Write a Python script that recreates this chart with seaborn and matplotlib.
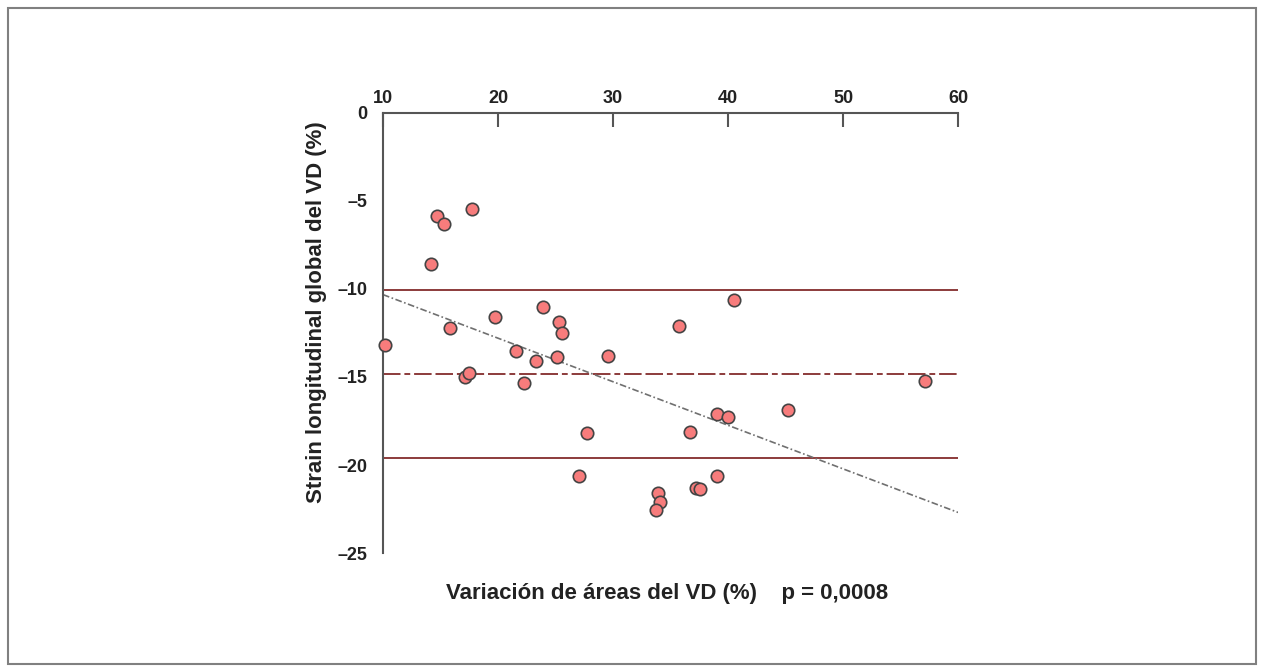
import numpy as np
import pandas as pd
import matplotlib
matplotlib.use("Agg")
import matplotlib.pyplot as plt
import seaborn as sns

# Values
area_var = [14.7, 15.3, 17.7, 14.2, 10.2, 15.8, 19.75, 23.9, 25.3, 25.6,
            21.6, 23.3, 25.1, 29.6, 17.1, 17.5, 22.3, 27.7, 40.5, 35.7,
            57.1, 39.0, 40.0, 45.2, 36.7, 27.0, 39.05, 37.2, 37.6, 33.9,
            34.1, 33.75]
strain = [-5.85, -6.3, -5.45, -8.6, -13.2, -12.2, -11.6, -11.0, -11.9, -12.5,
          -13.5, -14.1, -13.85, -13.8, -15.0, -14.8, -15.35, -18.2, -10.65, -12.1,
          -15.2, -17.1, -17.25, -16.9, -18.15, -20.6, -20.6, -21.3, -21.35, -21.6,
          -22.1, -22.55]
limit_levels = [-10.05, -19.6]   # solid lines
mean_level = -14.85              # dashed line
x_ticks = [10, 20, 30, 40, 50, 60]
y_ticks = [0, -5, -10, -15, -20, -25]

df = pd.DataFrame({"x": area_var, "y": strain})

sns.set_style("white")
plt.rcParams['font.family'] = ['Liberation Sans', 'DejaVu Sans']
text_col = "#222222"

fig = plt.figure(figsize=(12.64, 6.72), dpi=100)
ax = fig.add_axes([0.303, 0.177, 0.455, 0.655])
ax.set_xlim(10, 60)
ax.set_ylim(-25, 0)

line_col = "#8c3b3b"
for lv in limit_levels:
    ax.axhline(lv, color=line_col, lw=1.4, zorder=1)
ax.axhline(mean_level, color=line_col, lw=1.4, ls=(0, (9, 2, 3, 2, 9, 2)), zorder=1)

# regression line fitted on the data
sns.regplot(data=df, x="x", y="y", ax=ax, scatter=False, ci=None, truncate=False,
            line_kws=dict(color="#707070", lw=1.2, ls=(0, (4, 1.5, 1, 1.5)), zorder=2))

sns.scatterplot(data=df, x="x", y="y", ax=ax, s=80, color="#f77c7c",
                edgecolor="#444444", linewidth=1.2, zorder=3, clip_on=False)

ax.set_xlim(10, 60)
ax.set_ylim(-25, 0)

for side in ["right", "bottom"]:
    ax.spines[side].set_visible(False)
for side in ["top", "left"]:
    ax.spines[side].set_color("#555555")
    ax.spines[side].set_linewidth(1.5)

ax.xaxis.tick_top()
ax.set_xticks(x_ticks)
ax.set_xticklabels([str(t) for t in x_ticks], fontsize=13, fontweight="bold", color=text_col)
ax.set_yticks(y_ticks)
ax.set_yticklabels([str(t).replace("-", "\u2013") for t in y_ticks], fontsize=13,
                   fontweight="bold", color=text_col)
ax.tick_params(axis="x", direction="in", length=10, width=1.5, color="#555555", pad=4)
ax.tick_params(axis="y", direction="inout", length=18, width=1.5, color="#555555", pad=2)

ax.set_xlabel("")
ax.set_ylabel("Strain longitudinal global del VD (%)", fontsize=16, fontweight="bold", color=text_col)
ax.yaxis.set_label_coords(-0.097, 0.548)
fig.text(0.528, 0.117, "Variación de áreas del VD (%)    p = 0,0008", ha="center", va="center",
         fontsize=16, fontweight="bold", color=text_col)

border = plt.Rectangle((8 / 1264, 8 / 672), 1 - 16 / 1264, 1 - 16 / 672, transform=fig.transFigure,
                       fill=False, edgecolor="#808080", lw=1.5)
fig.patches.append(border)

fig.savefig("out.png", dpi=100)
